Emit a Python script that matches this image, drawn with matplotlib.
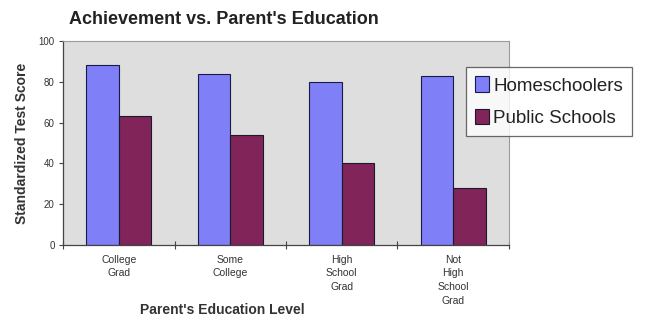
import matplotlib
matplotlib.use("Agg")
import matplotlib.pyplot as plt
import numpy as np

categories = ["College\nGrad", "Some\nCollege", "High\nSchool\nGrad", "Not\nHigh\nSchool\nGrad"]
homeschoolers = [88, 84, 80, 83]
public_schools = [63, 54, 40, 28]
series_names = ["Homeschoolers", "Public Schools"]
yticks = [0, 20, 40, 60, 80, 100]

plt.rcParams['font.family'] = ['Liberation Sans', 'DejaVu Sans']

fig = plt.figure(figsize=(6.48, 3.28), dpi=100)
W, H = 648, 328
x0, x1, ytop, ybot = 63, 509, 41, 245
ax = fig.add_axes([x0 / W, 1 - ybot / H, (x1 - x0) / W, (ybot - ytop) / H])
ax.set_facecolor('#dedede')

x = np.arange(len(categories))
bw = 0.29
ax.bar(x - bw / 2, homeschoolers, bw, color='#7f7ff7', edgecolor='#1a1a4a', linewidth=0.8, label=series_names[0])
ax.bar(x + bw / 2, public_schools, bw, color='#80245a', edgecolor='#1a1a2a', linewidth=0.8, label=series_names[1])

ax.set_xlim(-0.5, len(categories) - 0.5)
ax.set_ylim(0, 100)
ax.set_yticks(yticks)
ax.set_yticklabels([str(v) for v in yticks], fontsize=7, color='#333333')
ax.set_xticks(np.arange(len(categories) + 1) - 0.5)
ax.set_xticklabels([])
ax.set_xticks(x, minor=True)
ax.set_xticklabels(categories, minor=True, fontsize=7.5, color='#333333', linespacing=1.45)
ax.tick_params(axis='x', which='minor', length=0, pad=7)
ax.tick_params(axis='x', which='major', direction='inout', length=6, width=0.8, color='#444444')
ax.tick_params(axis='y', direction='out', length=3, width=0.8, color='#444444', pad=3)

for s in ['top', 'right']:
    ax.spines[s].set_color('#9a9a9a')
    ax.spines[s].set_linewidth(0.8)
for s in ['left', 'bottom']:
    ax.spines[s].set_color('#444444')
    ax.spines[s].set_linewidth(0.9)

ax.set_ylabel("Standardized Test Score", fontsize=10, fontweight='bold', color='#333333', labelpad=7)
fig.text(222 / W, 1 - 310 / H, "Parent's Education Level", fontsize=10, fontweight='bold',
         color='#333333', ha='center', va='center')
fig.text(224 / W, 1 - 20 / H, "Achievement vs. Parent's Education", fontsize=13, fontweight='bold',
         color='#222222', ha='center', va='center')

leg = fig.legend(loc='upper left', bbox_to_anchor=(466 / W, 1 - 67 / H), fontsize=13.5,
                 frameon=True, fancybox=False, edgecolor='#444444', handlelength=0.7,
                 handleheight=0.9, handletextpad=0.25, borderpad=0.5, labelspacing=0.75,
                 borderaxespad=0)
leg.get_frame().set_linewidth(0.9)
for t in leg.get_texts():
    t.set_color('#222222')

fig.savefig("out.png", dpi=100, facecolor='white')
